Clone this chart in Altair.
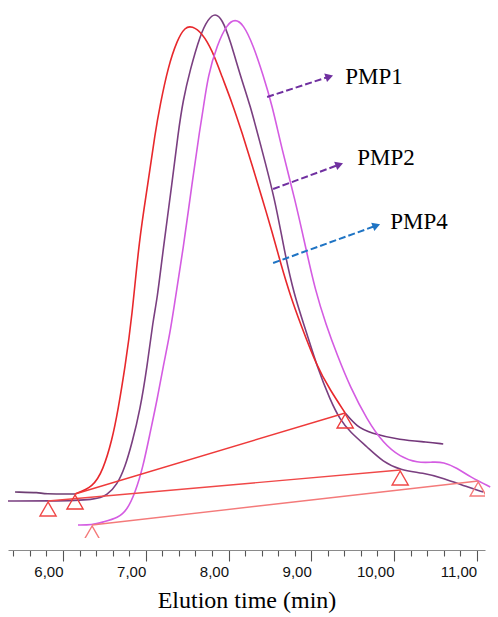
import altair as alt
import pandas as pd

# ---- chromatogram traces (elution time in min, detector response in a.u.) ----
red_x = [6.145, 6.363, 6.484, 6.593, 6.665, 6.750, 6.834, 6.919, 7.028, 7.113, 7.173,
         7.270, 7.379, 7.475, 7.560, 7.681, 7.802, 7.923, 8.044, 8.165, 8.285, 8.406,
         8.527, 8.636, 8.745, 8.866, 9.071, 9.229, 9.410]
red_y = [9.0, 10.4, 13.8, 19.8, 25.8, 34.4, 44.4, 59.8, 71.2, 81.2, 86.8,
         94.4, 99.8, 102.4, 102.6, 101.2, 97.8, 92.4, 87.2, 81.2, 74.8, 68.2,
         61.4, 54.8, 48.8, 43.2, 34.4, 29.8, 25.2]

redpre_x = [5.420, 5.722, 5.758, 6.145]
redpre_y = [9.4, 9.3, 9.0, 9.0]

redtail_x = [9.410, 9.555, 9.712, 10.075, 10.401, 10.595]
redtail_y = [25.2, 22.4, 21.2, 19.8, 19.4, 19.0]

purple_x = [5.335, 5.819, 6.411, 6.532, 6.653, 6.750, 6.834, 6.931, 7.016, 7.088, 7.137,
            7.209, 7.318, 7.391, 7.451, 7.536, 7.657, 7.753, 7.838, 7.923, 8.019, 8.140,
            8.261, 8.382, 8.564, 8.672, 8.793, 8.926, 9.071, 9.229, 9.350, 9.470, 9.676,
            9.869, 10.075, 10.353, 10.595, 10.885, 11.079]
purple_y = [7.6, 7.6, 7.8, 8.8, 10.8, 14.4, 19.2, 25.8, 34.4, 43.8, 47.8,
            57.8, 71.2, 81.2, 87.8, 93.8, 100.8, 104.0, 105.2, 104.0, 99.8, 92.8,
            86.8, 79.2, 67.8, 57.8, 48.8, 42.2, 34.4, 27.8, 23.8, 21.4, 18.4,
            15.4, 13.8, 13.2, 12.2, 10.4, 9.4]

magenta_x = [6.181, 6.351, 6.484, 6.665, 6.774, 6.871, 6.967, 7.052, 7.137, 7.209, 7.294,
             7.354, 7.451, 7.560, 7.657, 7.693, 7.753, 7.862, 7.983, 8.080, 8.177, 8.298,
             8.418, 8.527, 8.648, 8.805, 8.926, 9.047, 9.180, 9.313, 9.470, 9.676, 9.869,
             10.075, 10.281, 10.474, 10.595, 10.764, 10.921, 11.163]
magenta_y = [2.8, 2.8, 3.4, 4.2, 5.8, 9.2, 14.4, 21.2, 27.8, 34.4, 41.2,
             47.8, 57.8, 71.2, 82.4, 85.8, 92.8, 98.8, 103.0, 104.0, 103.0, 98.8,
             92.8, 86.8, 77.8, 67.8, 58.8, 49.8, 42.8, 36.8, 30.4, 23.8, 19.2,
             16.4, 15.2, 15.4, 15.4, 14.2, 12.4, 10.4]

# ---- integration baselines (start / end) ----
bl_names = ["bl_red", "bl_purple", "bl_magenta"]
bl_x0 = [6.145, 5.819, 6.351]
bl_y0 = [9.0, 7.6, 2.8]
bl_x1 = [9.410, 10.075, 11.018]
bl_y1 = [25.2, 13.8, 11.6]

# ---- annotation arrows and labels ----
arrow_names = ["arr1", "arr2", "arr4"]
arrow_x0 = [8.467, 8.539, 8.539]
arrow_y0 = [88.4, 70.0, 55.2]
arrow_x1 = [9.204, 9.325, 9.773]
arrow_y1 = [92.4, 74.8, 62.6]
arrow_angle = [72, 70, 70]
label_text = ["PMP1", "PMP2", "PMP4"]
label_x = [9.410, 9.555, 9.954]
label_y = [92.4, 76.2, 63.4]

tick_values = [round(5.4 + 0.2 * k, 1) for k in range(29)]

color_domain = ["red", "redpre", "redtail", "purple", "magenta",
                "bl_red", "bl_purple", "bl_magenta", "arr1", "arr2", "arr4"]
color_range = ["#E8282C", "#6F3F74", "#73377A", "#7A3F80", "#D45CE2",
               "#EE3A3A", "#F04848", "#F47A7A", "#7030A0", "#7030A0", "#1F74C4"]


def frame(name, xs, ys):
    return pd.DataFrame({"t": xs, "v": ys, "series": name, "i": list(range(len(xs)))})


curves = pd.concat([
    frame("redpre", redpre_x, redpre_y),
    frame("purple", purple_x, purple_y),
    frame("red", red_x, red_y),
    frame("redtail", redtail_x, redtail_y),
    frame("magenta", magenta_x, magenta_y),
], ignore_index=True)

baselines = pd.concat(
    [frame(n, [a, c], [b, d]) for n, a, b, c, d in zip(bl_names, bl_x0, bl_y0, bl_x1, bl_y1)],
    ignore_index=True)

arrows = pd.concat(
    [frame(n, [a, c], [b, d]) for n, a, b, c, d in zip(arrow_names, arrow_x0, arrow_y0, arrow_x1, arrow_y1)],
    ignore_index=True)
heads = pd.DataFrame({"t": arrow_x1, "v": arrow_y1, "series": arrow_names, "ang": arrow_angle})
labels = pd.DataFrame({"t": label_x, "v": label_y, "txt": label_text})

major = "abs(datum.value - round(datum.value)) < 0.01"
x_axis = alt.Axis(
    values=tick_values,
    labelExpr=f"{major} ? replace(format(datum.value, '.2f'), '.', ',') : ''",
    tickSize={"condition": {"test": major, "value": 11}, "value": 6},
    offset=12, grid=False,
    domainColor="#8A8A8A", domainWidth=1.2,
    tickColor="#555555", tickWidth=1.1,
    labelFont="Liberation Sans", labelFontSize=15, labelColor="#111111",
    labelAlign="right", labelPadding=3, labelFlush=False, labelOverlap=False,
    title="Elution time (min)", titleFont="Liberation Serif", titleFontSize=24,
    titleFontWeight="normal", titleColor="#000000", titlePadding=9,
)
X = alt.X("t:Q", scale=alt.Scale(domain=[5.335, 11.1], nice=False, zero=False), axis=x_axis)
Y = alt.Y("v:Q", scale=alt.Scale(domain=[0.2, 107.8], nice=False, zero=False), axis=None)
C = alt.Color("series:N", scale=alt.Scale(domain=color_domain, range=color_range), legend=None)

curve_layer = alt.Chart(curves).mark_line(strokeWidth=1.6, interpolate="basis").encode(
    x=X, y=Y, color=C, detail="series:N", order="i:Q")

base_layer = alt.Chart(baselines).mark_line(strokeWidth=1.4).encode(
    x=X, y=Y, color=C, detail="series:N", order="i:Q")

tri_layer = alt.Chart(baselines).mark_point(
    shape="triangle-up", size=260, filled=False, strokeWidth=1.4, yOffset=8, clip=True, opacity=1
).encode(x=X, y=Y, color=C)

arrow_layer = alt.Chart(arrows).mark_line(strokeWidth=2, strokeDash=[7, 3]).encode(
    x=X, y=Y, color=C, detail="series:N", order="i:Q")

head_layer = alt.Chart(heads).mark_point(shape="triangle", size=80, filled=True, opacity=1).encode(
    x=X, y=Y, color=C, angle=alt.Angle("ang:Q", scale=None))

text_layer = alt.Chart(labels).mark_text(
    align="left", baseline="middle", font="Liberation Serif", fontSize=23, color="#000000"
).encode(x=X, y=Y, text="txt:N")

chart = alt.layer(
    curve_layer, base_layer, tri_layer, arrow_layer, head_layer, text_layer
).properties(
    width=477, height=538,
    autosize=alt.AutoSizeParams(type="none"),
    padding={"left": 8, "top": 0, "right": 13, "bottom": 79},
).configure_view(stroke=None)

chart.save("out.html", embed_options={"renderer": "svg", "actions": False})
